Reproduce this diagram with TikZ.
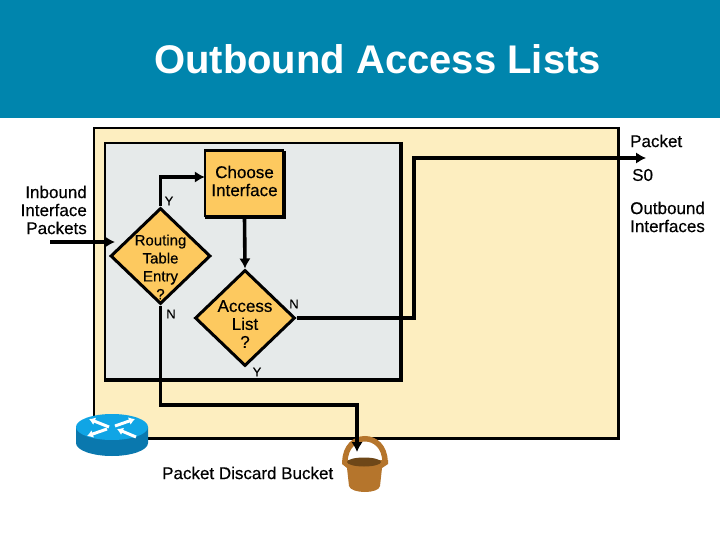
\documentclass[tikz,border=0pt]{standalone}
\usepackage{fontspec}
\setmainfont{Liberation Sans}
\usetikzlibrary{shapes.geometric,arrows.meta,calc}
\definecolor{headc}{HTML}{0085AD}
\definecolor{creamc}{HTML}{FDEEC0}
\definecolor{greyc}{HTML}{E6EAEA}
\definecolor{goldc}{HTML}{FDC95F}
\definecolor{rtop}{HTML}{10A5E5}
\definecolor{rside}{HTML}{0A78AE}
\definecolor{buck}{HTML}{B5752C}
\definecolor{buckd}{HTML}{6E4718}
\newcommand{\fb}{\addfontfeatures{FakeBold=0.35}}
\tikzset{
  lab/.style={font=\fontsize{17}{18}\selectfont\fb,align=center,inner sep=0pt,text=black},
  small/.style={font=\fontsize{13}{15}\selectfont\fb,inner sep=0pt,text=black},
  flow/.style={line width=3.6pt,black,line join=miter},
  arr/.style={flow,-{Latex[length=10pt,width=11.5pt]}},
  dia/.style={diamond,draw=black,line width=3pt,fill=goldc,inner sep=0pt,minimum width=100pt,minimum height=96pt,aspect=1.04},
  rarr/.style={white,line width=3pt,-{Latex[length=6pt,width=8pt]}},
}
\begin{document}
\begin{tikzpicture}[x=1pt,y=-1pt]
\useasboundingbox (0,0) rectangle (720,540);
\fill[white] (0,0) rectangle (720,540);
\fill[headc] (0,0) rectangle (720,118);
\node[font=\bfseries\fontsize{40}{44}\selectfont,text=white,inner sep=0pt] (title) at (377.5,59) {Outbound Access Lists};
% outer box
\fill[creamc] (94,128) rectangle (619,438);
\draw[black,line width=2pt] (94,438) -- (94,128) -- (618,128);
\draw[black,line width=3pt] (618,127) -- (618,438) -- (94,438);
% inner box
\fill[greyc] (105,143) rectangle (401,380);
\draw[black,line width=2pt] (105,380) -- (105,143) -- (401,143);
\draw[black,line width=3.6pt] (401,142) -- (401,380) -- (104,380);
% router
\fill[rside] (76,427) -- (76,443) arc[start angle=180,end angle=0,x radius=36,y radius=13] -- (148,427) -- cycle;
\fill[rtop] (112,427) ellipse[x radius=36,y radius=13];
\draw[rarr] (109,427) -- (89,419);
\draw[rarr] (115,426) -- (135,419);
\draw[rarr] (107,429) -- (87,436);
\draw[rarr] (136,437) -- (117,429);
% bucket
\draw[buck,line width=5.5pt] (345,462) .. controls (345,431) and (385,431) .. (385,462);
\fill[buck] (342,460) -- (388,460) -- (388,464) -- (382,468) -- (380,486) .. controls (379,494) and (351,494) .. (349,486) -- (347,468) -- (342,464) -- cycle;
\fill[buckd] (364,462) ellipse[x radius=17,y radius=4.5];
% nodes
\node[fill=goldc,minimum width=79pt,minimum height=66pt,inner sep=0pt] (choose) at (244.5,184) {};
\draw[black,line width=2.6pt] (choose.south west) -- (choose.north west) -- (choose.north east);
\draw[black,line width=4pt] (choose.north east) -- (choose.south east) -- (choose.south west);
\node[lab] (chooset) at (244.5,181) {Choose\\Interface};
\node[dia] (rt) at (160.5,256) {};
\node[lab,font=\fontsize{15}{18}\selectfont\fb] (rtt) at (160.5,267) {Routing\\Table\\Entry\\?};
\node[dia] (al) at (245,318) {};
\node[lab] (alt) at (245,324) {Access\\List\\?};
\coordinate (inb) at (50,242);
\coordinate (inbe) at (115,242);
\coordinate (out) at (646,158);
\coordinate (yc) at (160.5,177);
\coordinate (c1) at (414,318);
\coordinate (c2) at (414,158);
\coordinate (d1) at (160.5,405);
\coordinate (d2) at (357,405);
\coordinate (d3) at (357,452);
% connectors
\draw[arr] (inb) -- (inbe);
\draw[arr] (rt.north) -- (yc) -- (yc -| choose.west);
\draw[arr] (choose.south) -- (al.north);
\draw[arr] (al.east) -- (c1) -- (c2) -- (out);
\draw[arr] (rt.south) -- (d1) -- (d2) -- (d3);
% labels
\node[lab,align=right,anchor=east] (inbl) at (87,210) {Inbound\\Interface\\Packets};
\node[small] (yr) at (169,201) {Y};
\node[small] (nr) at (171,314) {N};
\node[small] (na) at (294,304) {N};
\node[small] (ya) at (257,372) {Y};
\node[lab,anchor=west] (pk) at (630,141) {Packet};
\node[lab,anchor=west] (s0) at (632,175) {S0};
\node[lab,align=left,anchor=west] (oi) at (630,217) {Outbound\\Interfaces};
\node[lab,anchor=west] (pd) at (162,473) {Packet Discard Bucket};
\end{tikzpicture}
\end{document}
